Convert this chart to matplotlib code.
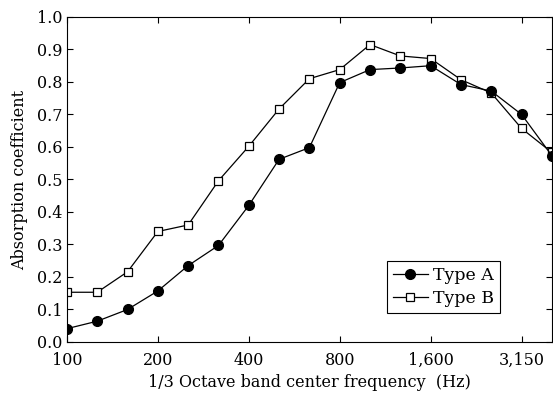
import numpy as np
import matplotlib.pyplot as plt

# 1/3 octave band centre frequencies (Hz)
freqs = [100, 125, 160, 200, 250, 315, 400, 500, 630, 800,
         1000, 1250, 1600, 2000, 2500, 3150, 4000]
type_a = [0.041, 0.064, 0.100, 0.157, 0.235, 0.297, 0.420, 0.562, 0.598, 0.798,
          0.838, 0.843, 0.850, 0.792, 0.772, 0.700, 0.573]
type_b = [0.153, 0.153, 0.216, 0.340, 0.360, 0.496, 0.602, 0.717, 0.810, 0.838,
          0.915, 0.880, 0.872, 0.807, 0.766, 0.657, 0.583]
tick_freqs = [100, 200, 400, 800, 1600, 3150]
tick_labels = ["100", "200", "400", "800", "1,600", "3,150"]

plt.rcParams['font.family'] = ['DejaVu Serif']
plt.rcParams['font.size'] = 11.5

fig = plt.figure(figsize=(5.53, 3.94), dpi=100)
ax = fig.add_axes([0.121, 0.132, 0.877, 0.825])

x = np.arange(len(freqs))
# squares first so the filled circles sit on top where they cross
lb, = ax.plot(x, type_b, "-s", color="black", lw=0.9, ms=6, mfc="white",
              mew=0.9, label="Type B")
la, = ax.plot(x, type_a, "-o", color="black", lw=0.9, ms=7, label="Type A")

ax.set_xlim(0, len(freqs) - 1)
ax.set_ylim(0, 1.0)
ax.set_xticks([freqs.index(f) for f in tick_freqs])
ax.set_xticklabels(tick_labels)
ax.set_yticks(np.arange(0, 1.01, 0.1))
ax.set_yticklabels([f"{v:.1f}" for v in np.arange(0, 1.01, 0.1)])
ax.tick_params(direction="in", top=True, right=True, length=4, width=0.8)
ax.tick_params(axis="x", pad=7)
ax.set_xlabel("1/3 Octave band center frequency  (Hz)", labelpad=4)
ax.set_ylabel("Absorption coefficient", labelpad=6)

leg = ax.legend([la, lb], ["Type A", "Type B"], loc="lower right",
                bbox_to_anchor=(0.893, 0.089), borderaxespad=0,
                fancybox=False, edgecolor="black", framealpha=1,
                handlelength=2.0, borderpad=0.35, labelspacing=0.35,
                handletextpad=0.3, fontsize=12.5)
leg.get_frame().set_linewidth(0.8)

plt.savefig("out.png", dpi=100)
